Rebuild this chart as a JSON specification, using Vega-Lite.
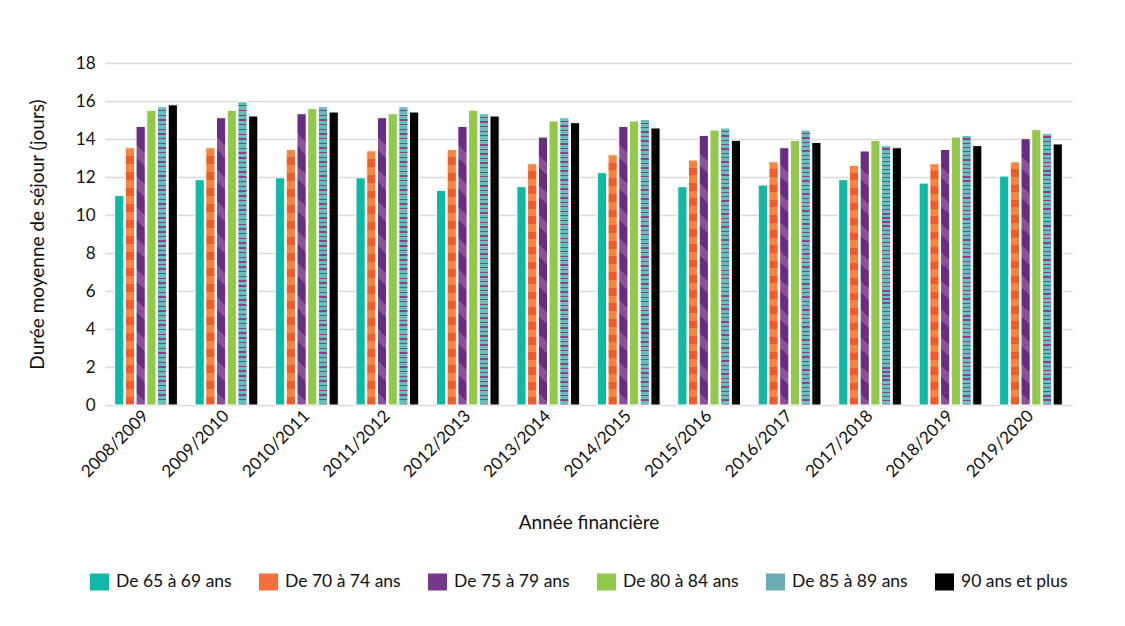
{
  "$schema": "https://vega.github.io/schema/vega-lite/v6.json",
  "width": 967,
  "height": 342,
  "autosize": {"type": "none"},
  "padding": {"left": 105, "top": 63, "right": 53, "bottom": 221},
  "background": "white",
  "config": {
    "font": "Lato",
    "view": {"stroke": null},
    "axis": {"labelFont": "Lato", "titleFont": "Lato", "labelColor": "#111", "titleColor": "#111", "titleFontWeight": "normal"},
    "legend": {"labelFont": "Lato"}
  },
  "data": {
    "values": [
      {"annee": "2008/2009", "groupe": "De 65 à 69 ans", "duree": 11.02},
      {"annee": "2008/2009", "groupe": "De 70 à 74 ans", "duree": 13.54},
      {"annee": "2008/2009", "groupe": "De 75 à 79 ans", "duree": 14.66},
      {"annee": "2008/2009", "groupe": "De 80 à 84 ans", "duree": 15.51},
      {"annee": "2008/2009", "groupe": "De 85 à 89 ans", "duree": 15.7},
      {"annee": "2008/2009", "groupe": "90 ans et plus", "duree": 15.8},
      {"annee": "2009/2010", "groupe": "De 65 à 69 ans", "duree": 11.86},
      {"annee": "2009/2010", "groupe": "De 70 à 74 ans", "duree": 13.54},
      {"annee": "2009/2010", "groupe": "De 75 à 79 ans", "duree": 15.12},
      {"annee": "2009/2010", "groupe": "De 80 à 84 ans", "duree": 15.51},
      {"annee": "2009/2010", "groupe": "De 85 à 89 ans", "duree": 15.96},
      {"annee": "2009/2010", "groupe": "90 ans et plus", "duree": 15.21},
      {"annee": "2010/2011", "groupe": "De 65 à 69 ans", "duree": 11.96},
      {"annee": "2010/2011", "groupe": "De 70 à 74 ans", "duree": 13.45},
      {"annee": "2010/2011", "groupe": "De 75 à 79 ans", "duree": 15.33},
      {"annee": "2010/2011", "groupe": "De 80 à 84 ans", "duree": 15.6},
      {"annee": "2010/2011", "groupe": "De 85 à 89 ans", "duree": 15.7},
      {"annee": "2010/2011", "groupe": "90 ans et plus", "duree": 15.42},
      {"annee": "2011/2012", "groupe": "De 65 à 69 ans", "duree": 11.96},
      {"annee": "2011/2012", "groupe": "De 70 à 74 ans", "duree": 13.38},
      {"annee": "2011/2012", "groupe": "De 75 à 79 ans", "duree": 15.12},
      {"annee": "2011/2012", "groupe": "De 80 à 84 ans", "duree": 15.33},
      {"annee": "2011/2012", "groupe": "De 85 à 89 ans", "duree": 15.7},
      {"annee": "2011/2012", "groupe": "90 ans et plus", "duree": 15.42},
      {"annee": "2012/2013", "groupe": "De 65 à 69 ans", "duree": 11.3},
      {"annee": "2012/2013", "groupe": "De 70 à 74 ans", "duree": 13.45},
      {"annee": "2012/2013", "groupe": "De 75 à 79 ans", "duree": 14.66},
      {"annee": "2012/2013", "groupe": "De 80 à 84 ans", "duree": 15.51},
      {"annee": "2012/2013", "groupe": "De 85 à 89 ans", "duree": 15.33},
      {"annee": "2012/2013", "groupe": "90 ans et plus", "duree": 15.21},
      {"annee": "2013/2014", "groupe": "De 65 à 69 ans", "duree": 11.49},
      {"annee": "2013/2014", "groupe": "De 70 à 74 ans", "duree": 12.7},
      {"annee": "2013/2014", "groupe": "De 75 à 79 ans", "duree": 14.1},
      {"annee": "2013/2014", "groupe": "De 80 à 84 ans", "duree": 14.95},
      {"annee": "2013/2014", "groupe": "De 85 à 89 ans", "duree": 15.12},
      {"annee": "2013/2014", "groupe": "90 ans et plus", "duree": 14.86},
      {"annee": "2014/2015", "groupe": "De 65 à 69 ans", "duree": 12.23},
      {"annee": "2014/2015", "groupe": "De 70 à 74 ans", "duree": 13.17},
      {"annee": "2014/2015", "groupe": "De 75 à 79 ans", "duree": 14.66},
      {"annee": "2014/2015", "groupe": "De 80 à 84 ans", "duree": 14.95},
      {"annee": "2014/2015", "groupe": "De 85 à 89 ans", "duree": 15.03},
      {"annee": "2014/2015", "groupe": "90 ans et plus", "duree": 14.58},
      {"annee": "2015/2016", "groupe": "De 65 à 69 ans", "duree": 11.49},
      {"annee": "2015/2016", "groupe": "De 70 à 74 ans", "duree": 12.89},
      {"annee": "2015/2016", "groupe": "De 75 à 79 ans", "duree": 14.19},
      {"annee": "2015/2016", "groupe": "De 80 à 84 ans", "duree": 14.47},
      {"annee": "2015/2016", "groupe": "De 85 à 89 ans", "duree": 14.58},
      {"annee": "2015/2016", "groupe": "90 ans et plus", "duree": 13.93},
      {"annee": "2016/2017", "groupe": "De 65 à 69 ans", "duree": 11.58},
      {"annee": "2016/2017", "groupe": "De 70 à 74 ans", "duree": 12.8},
      {"annee": "2016/2017", "groupe": "De 75 à 79 ans", "duree": 13.54},
      {"annee": "2016/2017", "groupe": "De 80 à 84 ans", "duree": 13.93},
      {"annee": "2016/2017", "groupe": "De 85 à 89 ans", "duree": 14.47},
      {"annee": "2016/2017", "groupe": "90 ans et plus", "duree": 13.82},
      {"annee": "2017/2018", "groupe": "De 65 à 69 ans", "duree": 11.86},
      {"annee": "2017/2018", "groupe": "De 70 à 74 ans", "duree": 12.61},
      {"annee": "2017/2018", "groupe": "De 75 à 79 ans", "duree": 13.37},
      {"annee": "2017/2018", "groupe": "De 80 à 84 ans", "duree": 13.93},
      {"annee": "2017/2018", "groupe": "De 85 à 89 ans", "duree": 13.65},
      {"annee": "2017/2018", "groupe": "90 ans et plus", "duree": 13.54},
      {"annee": "2018/2019", "groupe": "De 65 à 69 ans", "duree": 11.68},
      {"annee": "2018/2019", "groupe": "De 70 à 74 ans", "duree": 12.7},
      {"annee": "2018/2019", "groupe": "De 75 à 79 ans", "duree": 13.45},
      {"annee": "2018/2019", "groupe": "De 80 à 84 ans", "duree": 14.1},
      {"annee": "2018/2019", "groupe": "De 85 à 89 ans", "duree": 14.19},
      {"annee": "2018/2019", "groupe": "90 ans et plus", "duree": 13.65},
      {"annee": "2019/2020", "groupe": "De 65 à 69 ans", "duree": 12.05},
      {"annee": "2019/2020", "groupe": "De 70 à 74 ans", "duree": 12.8},
      {"annee": "2019/2020", "groupe": "De 75 à 79 ans", "duree": 14.02},
      {"annee": "2019/2020", "groupe": "De 80 à 84 ans", "duree": 14.49},
      {"annee": "2019/2020", "groupe": "De 85 à 89 ans", "duree": 14.3},
      {"annee": "2019/2020", "groupe": "90 ans et plus", "duree": 13.74}
    ]
  },
  "encoding": {
    "x": {
      "field": "annee",
      "type": "nominal",
      "sort": null,
      "scale": {"paddingInner": 0.22, "paddingOuter": 0.12},
      "axis": {
        "title": "Année financière",
        "titleFontSize": 19,
        "titlePadding": 34,
        "labelAngle": -45,
        "labelAlign": "right",
        "labelBaseline": "middle",
        "labelFontSize": 17,
        "labelPadding": 8,
        "domain": false,
        "ticks": false
      }
    },
    "xOffset": {
      "field": "groupe",
      "type": "nominal",
      "sort": ["De 65 à 69 ans", "De 70 à 74 ans", "De 75 à 79 ans", "De 80 à 84 ans", "De 85 à 89 ans", "90 ans et plus"],
      "scale": {"domain": ["De 65 à 69 ans", "De 70 à 74 ans", "De 75 à 79 ans", "De 80 à 84 ans", "De 85 à 89 ans", "90 ans et plus"], "paddingInner": 0.14}
    },
    "y": {
      "field": "duree",
      "type": "quantitative",
      "scale": {"domain": [0, 18], "nice": false},
      "axis": {
        "title": "Durée moyenne de séjour (jours)",
        "titleFontSize": 19,
        "titlePadding": 28,
        "values": [0, 2, 4, 6, 8, 10, 12, 14, 16, 18],
        "labelFontSize": 17,
        "labelPadding": 10,
        "domain": false,
        "ticks": false,
        "gridColor": "#d9d9d9",
        "gridWidth": 1.5
      }
    }
  },
  "layer": [
    {
      "mark": {"type": "bar", "stroke": "white", "strokeWidth": 1},
      "encoding": {
        "color": {
          "field": "groupe",
          "type": "nominal",
          "sort": ["De 65 à 69 ans", "De 70 à 74 ans", "De 75 à 79 ans", "De 80 à 84 ans", "De 85 à 89 ans", "90 ans et plus"],
          "scale": {
            "domain": ["De 65 à 69 ans", "De 70 à 74 ans", "De 75 à 79 ans", "De 80 à 84 ans", "De 85 à 89 ans", "90 ans et plus"],
            "range": ["#10b9a6", "#f3703a", "#74398a", "#93c94b", "#6aabb4", "#000000"]
          },
          "legend": {
            "title": null,
            "orient": "none",
            "legendX": -15,
            "legendY": 509,
            "direction": "horizontal",
            "columns": 6,
            "symbolType": "M-1,-0.9H1V0.9H-1Z",
            "symbolSize": 361,
            "symbolStrokeWidth": 0,
            "symbolOpacity": 1,
            "labelFontSize": 17.5,
            "labelColor": "#111",
            "labelOffset": 7,
            "columnPadding": 27,
            "clipHeight": 20
          }
        }
      }
    },
    {
      "transform": [{"filter": "datum.groupe === 'De 70 à 74 ans'"}],
      "mark": {
        "type": "bar", "stroke": "white", "strokeWidth": 1,
        "fill": {"gradient": "linear", "x1": 0, "y1": 0, "x2": 0, "y2": 1, "stops": [
          {"offset": 0, "color": "#f5853f"}, {"offset": 0.03125, "color": "#f5853f"}, {"offset": 0.03125, "color": "#f15a29"}, {"offset": 0.0625, "color": "#f15a29"},
          {"offset": 0.0625, "color": "#f5853f"}, {"offset": 0.09375, "color": "#f5853f"}, {"offset": 0.09375, "color": "#f15a29"}, {"offset": 0.125, "color": "#f15a29"},
          {"offset": 0.125, "color": "#f5853f"}, {"offset": 0.15625, "color": "#f5853f"}, {"offset": 0.15625, "color": "#f15a29"}, {"offset": 0.1875, "color": "#f15a29"},
          {"offset": 0.1875, "color": "#f5853f"}, {"offset": 0.21875, "color": "#f5853f"}, {"offset": 0.21875, "color": "#f15a29"}, {"offset": 0.25, "color": "#f15a29"},
          {"offset": 0.25, "color": "#f5853f"}, {"offset": 0.28125, "color": "#f5853f"}, {"offset": 0.28125, "color": "#f15a29"}, {"offset": 0.3125, "color": "#f15a29"},
          {"offset": 0.3125, "color": "#f5853f"}, {"offset": 0.34375, "color": "#f5853f"}, {"offset": 0.34375, "color": "#f15a29"}, {"offset": 0.375, "color": "#f15a29"},
          {"offset": 0.375, "color": "#f5853f"}, {"offset": 0.40625, "color": "#f5853f"}, {"offset": 0.40625, "color": "#f15a29"}, {"offset": 0.4375, "color": "#f15a29"},
          {"offset": 0.4375, "color": "#f5853f"}, {"offset": 0.46875, "color": "#f5853f"}, {"offset": 0.46875, "color": "#f15a29"}, {"offset": 0.5, "color": "#f15a29"},
          {"offset": 0.5, "color": "#f5853f"}, {"offset": 0.53125, "color": "#f5853f"}, {"offset": 0.53125, "color": "#f15a29"}, {"offset": 0.5625, "color": "#f15a29"},
          {"offset": 0.5625, "color": "#f5853f"}, {"offset": 0.59375, "color": "#f5853f"}, {"offset": 0.59375, "color": "#f15a29"}, {"offset": 0.625, "color": "#f15a29"},
          {"offset": 0.625, "color": "#f5853f"}, {"offset": 0.65625, "color": "#f5853f"}, {"offset": 0.65625, "color": "#f15a29"}, {"offset": 0.6875, "color": "#f15a29"},
          {"offset": 0.6875, "color": "#f5853f"}, {"offset": 0.71875, "color": "#f5853f"}, {"offset": 0.71875, "color": "#f15a29"}, {"offset": 0.75, "color": "#f15a29"},
          {"offset": 0.75, "color": "#f5853f"}, {"offset": 0.78125, "color": "#f5853f"}, {"offset": 0.78125, "color": "#f15a29"}, {"offset": 0.8125, "color": "#f15a29"},
          {"offset": 0.8125, "color": "#f5853f"}, {"offset": 0.84375, "color": "#f5853f"}, {"offset": 0.84375, "color": "#f15a29"}, {"offset": 0.875, "color": "#f15a29"},
          {"offset": 0.875, "color": "#f5853f"}, {"offset": 0.90625, "color": "#f5853f"}, {"offset": 0.90625, "color": "#f15a29"}, {"offset": 0.9375, "color": "#f15a29"},
          {"offset": 0.9375, "color": "#f5853f"}, {"offset": 0.96875, "color": "#f5853f"}, {"offset": 0.96875, "color": "#f15a29"}, {"offset": 1, "color": "#f15a29"}
        ]}
      }
    },
    {
      "transform": [{"filter": "datum.groupe === 'De 75 à 79 ans'"}],
      "mark": {
        "type": "bar", "stroke": "white", "strokeWidth": 1,
        "fill": {"gradient": "linear", "x1": 0.033, "y1": 0, "x2": 0, "y2": 1, "stops": [
          {"offset": 0, "color": "#662d80"}, {"offset": 0.0667, "color": "#662d80"}, {"offset": 0.0667, "color": "#8b5198"}, {"offset": 0.1111, "color": "#8b5198"},
          {"offset": 0.1111, "color": "#662d80"}, {"offset": 0.1778, "color": "#662d80"}, {"offset": 0.1778, "color": "#8b5198"}, {"offset": 0.2222, "color": "#8b5198"},
          {"offset": 0.2222, "color": "#662d80"}, {"offset": 0.2889, "color": "#662d80"}, {"offset": 0.2889, "color": "#8b5198"}, {"offset": 0.3333, "color": "#8b5198"},
          {"offset": 0.3333, "color": "#662d80"}, {"offset": 0.4, "color": "#662d80"}, {"offset": 0.4, "color": "#8b5198"}, {"offset": 0.4444, "color": "#8b5198"},
          {"offset": 0.4444, "color": "#662d80"}, {"offset": 0.5111, "color": "#662d80"}, {"offset": 0.5111, "color": "#8b5198"}, {"offset": 0.5556, "color": "#8b5198"},
          {"offset": 0.5556, "color": "#662d80"}, {"offset": 0.6222, "color": "#662d80"}, {"offset": 0.6222, "color": "#8b5198"}, {"offset": 0.6667, "color": "#8b5198"},
          {"offset": 0.6667, "color": "#662d80"}, {"offset": 0.7333, "color": "#662d80"}, {"offset": 0.7333, "color": "#8b5198"}, {"offset": 0.7778, "color": "#8b5198"},
          {"offset": 0.7778, "color": "#662d80"}, {"offset": 0.8444, "color": "#662d80"}, {"offset": 0.8444, "color": "#8b5198"}, {"offset": 0.8889, "color": "#8b5198"},
          {"offset": 0.8889, "color": "#662d80"}, {"offset": 0.9556, "color": "#662d80"}, {"offset": 0.9556, "color": "#8b5198"}, {"offset": 1, "color": "#8b5198"}
        ]}
      }
    },
    {
      "transform": [{"filter": "datum.groupe === 'De 85 à 89 ans'"}],
      "mark": {
        "type": "bar", "stroke": "white", "strokeWidth": 1,
        "fill": {"gradient": "linear", "x1": 0, "y1": 0, "x2": 0, "y2": 1, "stops": [
          {"offset": 0, "color": "#5ec4b8"}, {"offset": 0.0109, "color": "#5ec4b8"}, {"offset": 0.0109, "color": "#8b3f98"}, {"offset": 0.0156, "color": "#8b3f98"},
          {"offset": 0.0156, "color": "#5ec4b8"}, {"offset": 0.0266, "color": "#5ec4b8"}, {"offset": 0.0266, "color": "#8b3f98"}, {"offset": 0.0313, "color": "#8b3f98"},
          {"offset": 0.0313, "color": "#5ec4b8"}, {"offset": 0.0422, "color": "#5ec4b8"}, {"offset": 0.0422, "color": "#8b3f98"}, {"offset": 0.0469, "color": "#8b3f98"},
          {"offset": 0.0469, "color": "#5ec4b8"}, {"offset": 0.0578, "color": "#5ec4b8"}, {"offset": 0.0578, "color": "#8b3f98"}, {"offset": 0.0625, "color": "#8b3f98"},
          {"offset": 0.0625, "color": "#5ec4b8"}, {"offset": 0.0734, "color": "#5ec4b8"}, {"offset": 0.0734, "color": "#8b3f98"}, {"offset": 0.0781, "color": "#8b3f98"},
          {"offset": 0.0781, "color": "#5ec4b8"}, {"offset": 0.0891, "color": "#5ec4b8"}, {"offset": 0.0891, "color": "#8b3f98"}, {"offset": 0.0938, "color": "#8b3f98"},
          {"offset": 0.0938, "color": "#5ec4b8"}, {"offset": 0.1047, "color": "#5ec4b8"}, {"offset": 0.1047, "color": "#8b3f98"}, {"offset": 0.1094, "color": "#8b3f98"},
          {"offset": 0.1094, "color": "#5ec4b8"}, {"offset": 0.1203, "color": "#5ec4b8"}, {"offset": 0.1203, "color": "#8b3f98"}, {"offset": 0.125, "color": "#8b3f98"},
          {"offset": 0.125, "color": "#5ec4b8"}, {"offset": 0.1359, "color": "#5ec4b8"}, {"offset": 0.1359, "color": "#8b3f98"}, {"offset": 0.1406, "color": "#8b3f98"},
          {"offset": 0.1406, "color": "#5ec4b8"}, {"offset": 0.1516, "color": "#5ec4b8"}, {"offset": 0.1516, "color": "#8b3f98"}, {"offset": 0.1563, "color": "#8b3f98"},
          {"offset": 0.1563, "color": "#5ec4b8"}, {"offset": 0.1672, "color": "#5ec4b8"}, {"offset": 0.1672, "color": "#8b3f98"}, {"offset": 0.1719, "color": "#8b3f98"},
          {"offset": 0.1719, "color": "#5ec4b8"}, {"offset": 0.1828, "color": "#5ec4b8"}, {"offset": 0.1828, "color": "#8b3f98"}, {"offset": 0.1875, "color": "#8b3f98"},
          {"offset": 0.1875, "color": "#5ec4b8"}, {"offset": 0.1984, "color": "#5ec4b8"}, {"offset": 0.1984, "color": "#8b3f98"}, {"offset": 0.2031, "color": "#8b3f98"},
          {"offset": 0.2031, "color": "#5ec4b8"}, {"offset": 0.2141, "color": "#5ec4b8"}, {"offset": 0.2141, "color": "#8b3f98"}, {"offset": 0.2188, "color": "#8b3f98"},
          {"offset": 0.2188, "color": "#5ec4b8"}, {"offset": 0.2297, "color": "#5ec4b8"}, {"offset": 0.2297, "color": "#8b3f98"}, {"offset": 0.2344, "color": "#8b3f98"},
          {"offset": 0.2344, "color": "#5ec4b8"}, {"offset": 0.2453, "color": "#5ec4b8"}, {"offset": 0.2453, "color": "#8b3f98"}, {"offset": 0.25, "color": "#8b3f98"},
          {"offset": 0.25, "color": "#5ec4b8"}, {"offset": 0.2609, "color": "#5ec4b8"}, {"offset": 0.2609, "color": "#8b3f98"}, {"offset": 0.2656, "color": "#8b3f98"},
          {"offset": 0.2656, "color": "#5ec4b8"}, {"offset": 0.2766, "color": "#5ec4b8"}, {"offset": 0.2766, "color": "#8b3f98"}, {"offset": 0.2813, "color": "#8b3f98"},
          {"offset": 0.2813, "color": "#5ec4b8"}, {"offset": 0.2922, "color": "#5ec4b8"}, {"offset": 0.2922, "color": "#8b3f98"}, {"offset": 0.2969, "color": "#8b3f98"},
          {"offset": 0.2969, "color": "#5ec4b8"}, {"offset": 0.3078, "color": "#5ec4b8"}, {"offset": 0.3078, "color": "#8b3f98"}, {"offset": 0.3125, "color": "#8b3f98"},
          {"offset": 0.3125, "color": "#5ec4b8"}, {"offset": 0.3234, "color": "#5ec4b8"}, {"offset": 0.3234, "color": "#8b3f98"}, {"offset": 0.3281, "color": "#8b3f98"},
          {"offset": 0.3281, "color": "#5ec4b8"}, {"offset": 0.3391, "color": "#5ec4b8"}, {"offset": 0.3391, "color": "#8b3f98"}, {"offset": 0.3438, "color": "#8b3f98"},
          {"offset": 0.3438, "color": "#5ec4b8"}, {"offset": 0.3547, "color": "#5ec4b8"}, {"offset": 0.3547, "color": "#8b3f98"}, {"offset": 0.3594, "color": "#8b3f98"},
          {"offset": 0.3594, "color": "#5ec4b8"}, {"offset": 0.3703, "color": "#5ec4b8"}, {"offset": 0.3703, "color": "#8b3f98"}, {"offset": 0.375, "color": "#8b3f98"},
          {"offset": 0.375, "color": "#5ec4b8"}, {"offset": 0.3859, "color": "#5ec4b8"}, {"offset": 0.3859, "color": "#8b3f98"}, {"offset": 0.3906, "color": "#8b3f98"},
          {"offset": 0.3906, "color": "#5ec4b8"}, {"offset": 0.4016, "color": "#5ec4b8"}, {"offset": 0.4016, "color": "#8b3f98"}, {"offset": 0.4063, "color": "#8b3f98"},
          {"offset": 0.4063, "color": "#5ec4b8"}, {"offset": 0.4172, "color": "#5ec4b8"}, {"offset": 0.4172, "color": "#8b3f98"}, {"offset": 0.4219, "color": "#8b3f98"},
          {"offset": 0.4219, "color": "#5ec4b8"}, {"offset": 0.4328, "color": "#5ec4b8"}, {"offset": 0.4328, "color": "#8b3f98"}, {"offset": 0.4375, "color": "#8b3f98"},
          {"offset": 0.4375, "color": "#5ec4b8"}, {"offset": 0.4484, "color": "#5ec4b8"}, {"offset": 0.4484, "color": "#8b3f98"}, {"offset": 0.4531, "color": "#8b3f98"},
          {"offset": 0.4531, "color": "#5ec4b8"}, {"offset": 0.4641, "color": "#5ec4b8"}, {"offset": 0.4641, "color": "#8b3f98"}, {"offset": 0.4688, "color": "#8b3f98"},
          {"offset": 0.4688, "color": "#5ec4b8"}, {"offset": 0.4797, "color": "#5ec4b8"}, {"offset": 0.4797, "color": "#8b3f98"}, {"offset": 0.4844, "color": "#8b3f98"},
          {"offset": 0.4844, "color": "#5ec4b8"}, {"offset": 0.4953, "color": "#5ec4b8"}, {"offset": 0.4953, "color": "#8b3f98"}, {"offset": 0.5, "color": "#8b3f98"},
          {"offset": 0.5, "color": "#5ec4b8"}, {"offset": 0.5109, "color": "#5ec4b8"}, {"offset": 0.5109, "color": "#8b3f98"}, {"offset": 0.5156, "color": "#8b3f98"},
          {"offset": 0.5156, "color": "#5ec4b8"}, {"offset": 0.5266, "color": "#5ec4b8"}, {"offset": 0.5266, "color": "#8b3f98"}, {"offset": 0.5313, "color": "#8b3f98"},
          {"offset": 0.5313, "color": "#5ec4b8"}, {"offset": 0.5422, "color": "#5ec4b8"}, {"offset": 0.5422, "color": "#8b3f98"}, {"offset": 0.5469, "color": "#8b3f98"},
          {"offset": 0.5469, "color": "#5ec4b8"}, {"offset": 0.5578, "color": "#5ec4b8"}, {"offset": 0.5578, "color": "#8b3f98"}, {"offset": 0.5625, "color": "#8b3f98"},
          {"offset": 0.5625, "color": "#5ec4b8"}, {"offset": 0.5734, "color": "#5ec4b8"}, {"offset": 0.5734, "color": "#8b3f98"}, {"offset": 0.5781, "color": "#8b3f98"},
          {"offset": 0.5781, "color": "#5ec4b8"}, {"offset": 0.5891, "color": "#5ec4b8"}, {"offset": 0.5891, "color": "#8b3f98"}, {"offset": 0.5938, "color": "#8b3f98"},
          {"offset": 0.5938, "color": "#5ec4b8"}, {"offset": 0.6047, "color": "#5ec4b8"}, {"offset": 0.6047, "color": "#8b3f98"}, {"offset": 0.6094, "color": "#8b3f98"},
          {"offset": 0.6094, "color": "#5ec4b8"}, {"offset": 0.6203, "color": "#5ec4b8"}, {"offset": 0.6203, "color": "#8b3f98"}, {"offset": 0.625, "color": "#8b3f98"},
          {"offset": 0.625, "color": "#5ec4b8"}, {"offset": 0.6359, "color": "#5ec4b8"}, {"offset": 0.6359, "color": "#8b3f98"}, {"offset": 0.6406, "color": "#8b3f98"},
          {"offset": 0.6406, "color": "#5ec4b8"}, {"offset": 0.6516, "color": "#5ec4b8"}, {"offset": 0.6516, "color": "#8b3f98"}, {"offset": 0.6563, "color": "#8b3f98"},
          {"offset": 0.6563, "color": "#5ec4b8"}, {"offset": 0.6672, "color": "#5ec4b8"}, {"offset": 0.6672, "color": "#8b3f98"}, {"offset": 0.6719, "color": "#8b3f98"},
          {"offset": 0.6719, "color": "#5ec4b8"}, {"offset": 0.6828, "color": "#5ec4b8"}, {"offset": 0.6828, "color": "#8b3f98"}, {"offset": 0.6875, "color": "#8b3f98"},
          {"offset": 0.6875, "color": "#5ec4b8"}, {"offset": 0.6984, "color": "#5ec4b8"}, {"offset": 0.6984, "color": "#8b3f98"}, {"offset": 0.7031, "color": "#8b3f98"},
          {"offset": 0.7031, "color": "#5ec4b8"}, {"offset": 0.7141, "color": "#5ec4b8"}, {"offset": 0.7141, "color": "#8b3f98"}, {"offset": 0.7188, "color": "#8b3f98"},
          {"offset": 0.7188, "color": "#5ec4b8"}, {"offset": 0.7297, "color": "#5ec4b8"}, {"offset": 0.7297, "color": "#8b3f98"}, {"offset": 0.7344, "color": "#8b3f98"},
          {"offset": 0.7344, "color": "#5ec4b8"}, {"offset": 0.7453, "color": "#5ec4b8"}, {"offset": 0.7453, "color": "#8b3f98"}, {"offset": 0.75, "color": "#8b3f98"},
          {"offset": 0.75, "color": "#5ec4b8"}, {"offset": 0.7609, "color": "#5ec4b8"}, {"offset": 0.7609, "color": "#8b3f98"}, {"offset": 0.7656, "color": "#8b3f98"},
          {"offset": 0.7656, "color": "#5ec4b8"}, {"offset": 0.7766, "color": "#5ec4b8"}, {"offset": 0.7766, "color": "#8b3f98"}, {"offset": 0.7813, "color": "#8b3f98"},
          {"offset": 0.7813, "color": "#5ec4b8"}, {"offset": 0.7922, "color": "#5ec4b8"}, {"offset": 0.7922, "color": "#8b3f98"}, {"offset": 0.7969, "color": "#8b3f98"},
          {"offset": 0.7969, "color": "#5ec4b8"}, {"offset": 0.8078, "color": "#5ec4b8"}, {"offset": 0.8078, "color": "#8b3f98"}, {"offset": 0.8125, "color": "#8b3f98"},
          {"offset": 0.8125, "color": "#5ec4b8"}, {"offset": 0.8234, "color": "#5ec4b8"}, {"offset": 0.8234, "color": "#8b3f98"}, {"offset": 0.8281, "color": "#8b3f98"},
          {"offset": 0.8281, "color": "#5ec4b8"}, {"offset": 0.8391, "color": "#5ec4b8"}, {"offset": 0.8391, "color": "#8b3f98"}, {"offset": 0.8438, "color": "#8b3f98"},
          {"offset": 0.8438, "color": "#5ec4b8"}, {"offset": 0.8547, "color": "#5ec4b8"}, {"offset": 0.8547, "color": "#8b3f98"}, {"offset": 0.8594, "color": "#8b3f98"},
          {"offset": 0.8594, "color": "#5ec4b8"}, {"offset": 0.8703, "color": "#5ec4b8"}, {"offset": 0.8703, "color": "#8b3f98"}, {"offset": 0.875, "color": "#8b3f98"},
          {"offset": 0.875, "color": "#5ec4b8"}, {"offset": 0.8859, "color": "#5ec4b8"}, {"offset": 0.8859, "color": "#8b3f98"}, {"offset": 0.8906, "color": "#8b3f98"},
          {"offset": 0.8906, "color": "#5ec4b8"}, {"offset": 0.9016, "color": "#5ec4b8"}, {"offset": 0.9016, "color": "#8b3f98"}, {"offset": 0.9063, "color": "#8b3f98"},
          {"offset": 0.9063, "color": "#5ec4b8"}, {"offset": 0.9172, "color": "#5ec4b8"}, {"offset": 0.9172, "color": "#8b3f98"}, {"offset": 0.9219, "color": "#8b3f98"},
          {"offset": 0.9219, "color": "#5ec4b8"}, {"offset": 0.9328, "color": "#5ec4b8"}, {"offset": 0.9328, "color": "#8b3f98"}, {"offset": 0.9375, "color": "#8b3f98"},
          {"offset": 0.9375, "color": "#5ec4b8"}, {"offset": 0.9484, "color": "#5ec4b8"}, {"offset": 0.9484, "color": "#8b3f98"}, {"offset": 0.9531, "color": "#8b3f98"},
          {"offset": 0.9531, "color": "#5ec4b8"}, {"offset": 0.9641, "color": "#5ec4b8"}, {"offset": 0.9641, "color": "#8b3f98"}, {"offset": 0.9688, "color": "#8b3f98"},
          {"offset": 0.9688, "color": "#5ec4b8"}, {"offset": 0.9797, "color": "#5ec4b8"}, {"offset": 0.9797, "color": "#8b3f98"}, {"offset": 0.9844, "color": "#8b3f98"},
          {"offset": 0.9844, "color": "#5ec4b8"}, {"offset": 0.9953, "color": "#5ec4b8"}, {"offset": 0.9953, "color": "#8b3f98"}, {"offset": 1, "color": "#8b3f98"}
        ]}
      }
    }
  ]
}
